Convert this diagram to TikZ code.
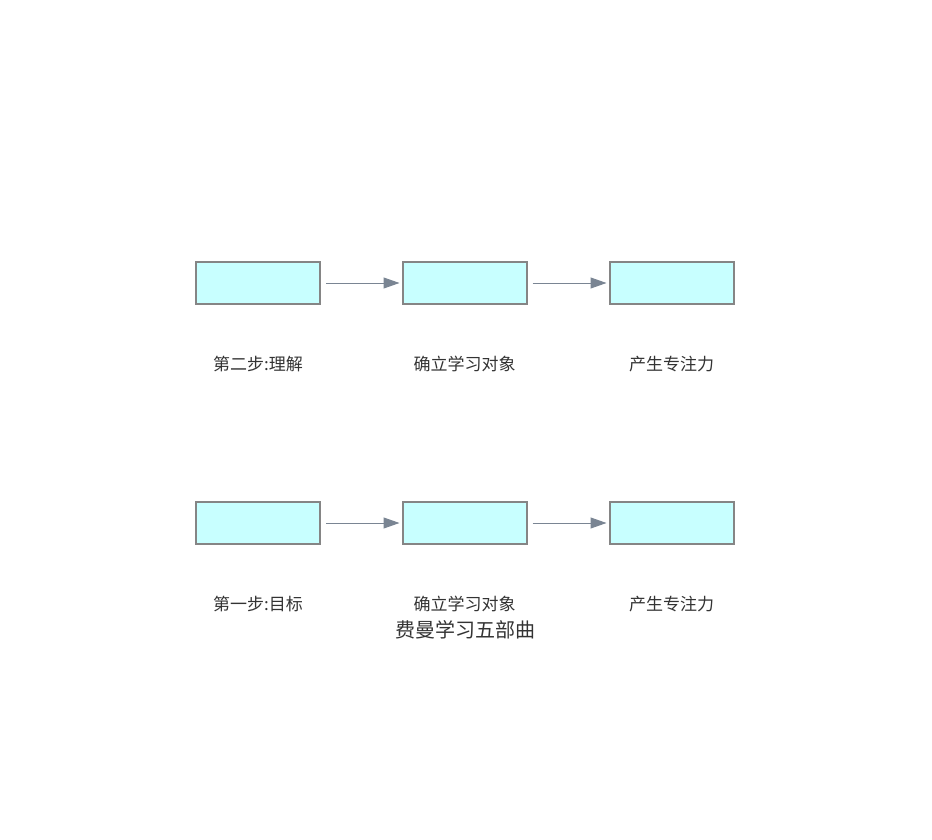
\documentclass[tikz,border=0pt]{standalone}
\usepackage{fontspec}
\setmainfont{Noto Sans CJK SC}
\usetikzlibrary{arrows.meta}
\definecolor{boxfill}{HTML}{C8FFFF}
\definecolor{boxline}{HTML}{858585}
\definecolor{arrowgray}{HTML}{7A8593}
\definecolor{textgray}{HTML}{333333}

\begin{document}
\begin{tikzpicture}[x=1pt, y=-1pt,
    stepbox/.style={draw=boxline, fill=boxfill, line width=2pt, minimum width=124pt, minimum height=42pt, inner sep=0pt},
    steplabel/.style={text=textgray, font=\fontsize{17}{20}\selectfont, inner sep=0pt},
    flow/.style={draw=arrowgray, line width=1pt, -{Triangle[length=16pt, width=11pt]}, shorten <=5pt, shorten >=2pt}]
    \useasboundingbox (0,0) rectangle (932,840);
    % upper row
    \node[stepbox] (b21) at (258,283) {};
    \node[stepbox] (b22) at (464.5,283) {};
    \node[stepbox] (b23) at (671.5,283) {};
    \node[steplabel] (l21) at (258,364) {第二步:理解};
    \node[steplabel] (l22) at (464.5,364) {确立学习对象};
    \node[steplabel] (l23) at (671.5,364) {产生专注力};
    \draw[flow] (b21.east) -- (b22.west);
    \draw[flow] (b22.east) -- (b23.west);
    % lower row
    \node[stepbox] (b11) at (258,523) {};
    \node[stepbox] (b12) at (464.5,523) {};
    \node[stepbox] (b13) at (671.5,523) {};
    \node[steplabel] (l11) at (258,604) {第一步:目标};
    \node[steplabel] (l12) at (464.5,604) {确立学习对象};
    \node[steplabel] (l13) at (671.5,604) {产生专注力};
    \draw[flow] (b11.east) -- (b12.west);
    \draw[flow] (b12.east) -- (b13.west);
    % title
    \node[text=textgray, font=\fontsize{20}{24}\selectfont, inner sep=0pt] (title) at (465,630) {费曼学习五部曲};
\end{tikzpicture}
\end{document}
